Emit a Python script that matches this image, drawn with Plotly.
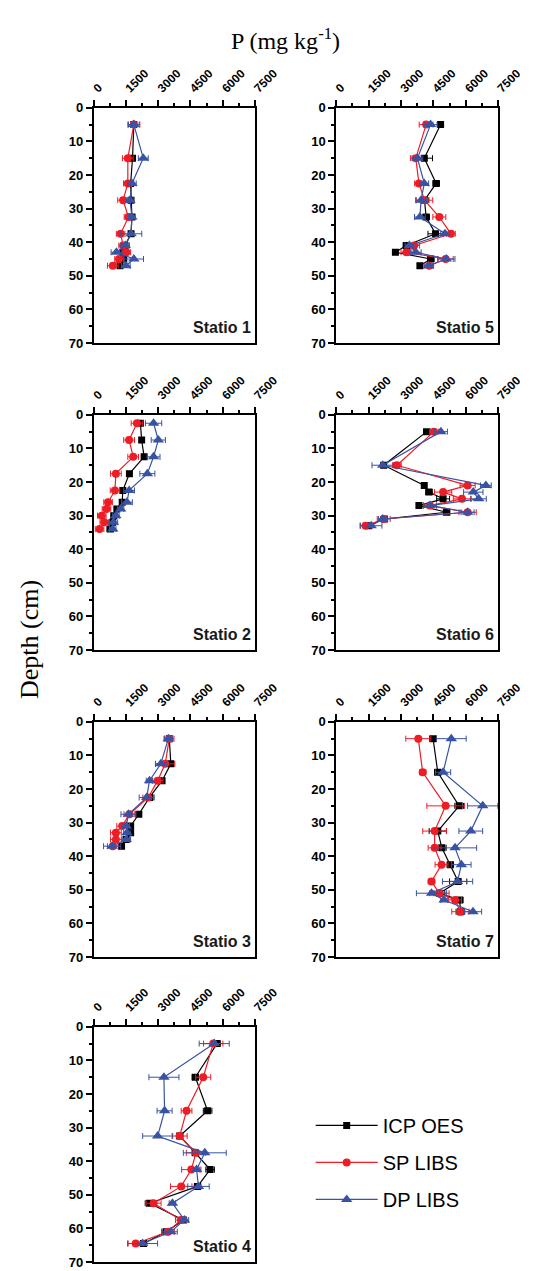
import plotly.graph_objects as go

# ---------------- data ----------------
stations = ["Statio 1", "Statio 5", "Statio 2", "Statio 6", "Statio 3", "Statio 7", "Statio 4"]

s1_depth = [5, 15, 22.5, 27.5, 32.5, 37.5, 41, 43, 45, 47]
s1_icp = [1860, 1800, 1710, 1730, 1770, 1730, 1450, 1350, 1390, 1215]
s1_sp = [1860, 1580, 1580, 1360, 1610, 1245, 1360, 1510, 1170, 880]
s1_dp = [1860, 2300, 1770, 1680, 1770, 1730, 1460, 1050, 1860, 1490]
s1_icp_err = [80, 120, 100, 100, 100, 100, 100, 100, 100, 100]
s1_sp_err = [280, 250, 200, 250, 200, 200, 200, 200, 200, 250]
s1_dp_err = [250, 230, 200, 150, 150, 500, 200, 250, 450, 200]

s5_depth = [5, 15, 22.5, 27.5, 32.5, 37.5, 41, 43, 45, 47]
s5_icp = [4835, 4080, 4630, 4090, 4165, 4600, 3250, 2740, 4380, 3875]
s5_sp = [4165, 3685, 3830, 4090, 4775, 5315, 3610, 3250, 5070, 4310]
s5_dp = [4370, 3760, 4080, 3930, 3875, 5040, 3390, 3685, 5100, 4270]
s5_icp_err = [120, 380, 150, 200, 150, 350, 150, 100, 150, 100]
s5_sp_err = [320, 250, 200, 380, 300, 200, 250, 250, 350, 200]
s5_dp_err = [300, 250, 200, 250, 250, 200, 200, 250, 400, 200]

s2_depth = [2.5, 7.5, 12.5, 17.5, 22.5, 26, 28, 30, 32, 34]
s2_icp = [2166, 2224, 2340, 1655, 1346, 1317, 1068, 922, 878, 761]
s2_sp = [2005, 1640, 1830, 1024, 980, 660, 585, 366, 483, 263]
s2_dp = [2780, 3000, 2780, 2490, 1640, 1540, 1244, 1024, 907, 878]
s2_icp_err = [100, 80, 100, 100, 100, 100, 100, 100, 100, 150]
s2_sp_err = [270, 250, 250, 250, 220, 200, 200, 200, 200, 200]
s2_dp_err = [380, 330, 300, 350, 250, 250, 150, 150, 200, 150]

s6_depth = [5, 15, 21, 23, 25, 27, 29, 31, 33]
s6_icp = [4194, 2199, 4078, 4296, 4951, 3830, 5112, 2228, 1500]
s6_sp = [4529, 2811, 6087, 4951, 5825, 4340, 6087, 2199, 1354]
s6_dp = [4850, 2155, 6932, 6350, 6600, 4340, 6087, 2155, 1617]
s6_icp_err = [150, 100, 100, 150, 300, 100, 150, 150, 150]
s6_sp_err = [200, 200, 350, 400, 400, 300, 400, 300, 250]
s6_dp_err = [300, 500, 250, 450, 350, 300, 300, 200, 500]

s3_depth = [5, 12.5, 17.5, 22.5, 27.5, 31, 33, 35, 37]
s3_icp = [3512, 3585, 3176, 2590, 2093, 1712, 1712, 1500, 1288]
s3_sp = [3512, 3322, 2970, 2532, 1654, 1317, 1024, 1024, 878]
s3_dp = [3468, 3117, 2590, 2459, 1610, 1507, 1537, 1507, 849]
s3_icp_err = [100, 100, 100, 100, 100, 100, 100, 100, 100]
s3_sp_err = [220, 450, 250, 250, 250, 250, 250, 250, 250]
s3_dp_err = [200, 250, 150, 350, 350, 150, 150, 200, 400]

s7_depth = [5, 15, 25, 32.5, 37.5, 42.5, 47.5, 51, 53, 56.5]
s7_icp = [4485, 4704, 5694, 4704, 4893, 5286, 5650, 4777, 5723, 5752]
s7_sp = [3801, 4005, 5068, 4558, 4558, 4879, 4413, 4777, 5505, 5752]
s7_dp = [5330, 4951, 6786, 6233, 5505, 5796, 5621, 4413, 4995, 6335]
s7_icp_err = [150, 150, 200, 400, 200, 150, 400, 250, 150, 200]
s7_sp_err = [580, 150, 870, 550, 300, 300, 150, 450, 300, 400]
s7_dp_err = [690, 350, 700, 550, 1000, 450, 700, 700, 150, 400]

s4_depth = [5, 15, 25, 32.5, 37.5, 42.5, 47.5, 52.5, 57.5, 61, 64.5]
s4_icp = [5737, 4727, 5298, 3995, 4727, 5415, 4830, 2590, 4171, 3366, 2312]
s4_sp = [5560, 5093, 4317, 3995, 4756, 4537, 4068, 2780, 4054, 3450, 1946]
s4_dp = [5605, 3263, 3293, 2971, 5166, 4785, 4873, 3658, 4215, 3585, 2268]
s4_icp_err = [150, 150, 200, 150, 150, 200, 150, 200, 150, 200, 150]
s4_sp_err = [450, 350, 250, 350, 450, 450, 500, 350, 250, 300, 350]
s4_dp_err = [700, 700, 350, 700, 1000, 150, 500, 150, 200, 300, 700]

methods = ["ICP OES", "SP LIBS", "DP LIBS"]
x_ticks = [0, 1500, 3000, 4500, 6000, 7500]
y_ticks = [0, 10, 20, 30, 40, 50, 60, 70]

station_data = [
    (s1_depth, [s1_icp, s1_sp, s1_dp], [s1_icp_err, s1_sp_err, s1_dp_err]),
    (s5_depth, [s5_icp, s5_sp, s5_dp], [s5_icp_err, s5_sp_err, s5_dp_err]),
    (s2_depth, [s2_icp, s2_sp, s2_dp], [s2_icp_err, s2_sp_err, s2_dp_err]),
    (s6_depth, [s6_icp, s6_sp, s6_dp], [s6_icp_err, s6_sp_err, s6_dp_err]),
    (s3_depth, [s3_icp, s3_sp, s3_dp], [s3_icp_err, s3_sp_err, s3_dp_err]),
    (s7_depth, [s7_icp, s7_sp, s7_dp], [s7_icp_err, s7_sp_err, s7_dp_err]),
    (s4_depth, [s4_icp, s4_sp, s4_dp], [s4_icp_err, s4_sp_err, s4_dp_err]),
]

# ---------------- style ----------------
W, H = 543, 1271
colors = ["#000000", "#ee1c25", "#3953a4"]
symbols = ["square", "circle", "triangle-up"]
msizes = [7, 8, 10]
col_x = [(95, 265), (351, 522)]
row_top = [102, 412.7, 723.4, 1032]
panel_h = 238
positions = [(0, 0), (0, 1), (1, 0), (1, 1), (2, 0), (2, 1), (3, 0)]

fig = go.Figure()
layout = {}
annotations = []

for i, (name, (depth, vals, errs)) in enumerate(zip(stations, station_data)):
    r, c = positions[i]
    x0, x1 = col_x[c]
    top = row_top[r]
    bot = min(top + panel_h, H - 1)
    xa = "xaxis" if i == 0 else f"xaxis{i+1}"
    ya = "yaxis" if i == 0 else f"yaxis{i+1}"
    xr = "x" if i == 0 else f"x{i+1}"
    yr = "y" if i == 0 else f"y{i+1}"
    for m in range(3):
        fig.add_trace(go.Scatter(
            x=vals[m], y=depth, xaxis=xr, yaxis=yr,
            mode="lines+markers", name=methods[m],
            legendgroup=methods[m], showlegend=(i == 0),
            line=dict(color=colors[m], width=1.2),
            marker=dict(symbol=symbols[m], size=msizes[m], color=colors[m]),
            error_x=dict(type="data", array=errs[m], color=colors[m],
                         thickness=1, width=3),
        ))
    layout[xa] = dict(
        domain=[x0 / W, x1 / W], anchor=yr, side="top", range=[0, 7500],
        tickvals=x_ticks, ticktext=[str(v) for v in x_ticks], tickangle=-45,
        ticks="outside", ticklen=6, tickwidth=2, tickcolor="black",
        minor=dict(ticks="outside", ticklen=3, tickwidth=2, dtick=750, tickcolor="black"),
        showline=True, linewidth=2, linecolor="black", mirror=True,
        showgrid=False, zeroline=False,
        tickfont=dict(family="Liberation Sans", size=12, color="black", weight="bold"),
    )
    layout[ya] = dict(
        domain=[1 - bot / H, 1 - top / H], anchor=xr, range=[70, 0],
        tickvals=y_ticks, ticks="outside", ticklen=6, tickwidth=2, tickcolor="black",
        minor=dict(ticks="outside", ticklen=3, tickwidth=2, dtick=5, tickcolor="black"),
        showline=True, linewidth=2, linecolor="black", mirror=True,
        showgrid=False, zeroline=False,
        tickfont=dict(family="Liberation Sans", size=13, color="black", weight="bold"),
    )
    annotations.append(dict(
        x=7420, y=68.5, xref=xr, yref=yr, text=name, showarrow=False,
        xanchor="right", yanchor="bottom",
        font=dict(family="Liberation Sans", size=16, color="#1a1a1a", weight="bold"),
    ))

annotations.append(dict(
    x=238 / W, y=1 - 32 / H, xref="paper", yref="paper",
    text="P (mg kg<sup>-1</sup>)", showarrow=False,
    xanchor="left", yanchor="middle",
    font=dict(family="Liberation Serif", size=24, color="black"),
))
annotations.append(dict(
    x=27 / W, y=1 - 640 / H, xref="paper", yref="paper",
    text="Depth (cm)", showarrow=False, textangle=-90,
    xanchor="center", yanchor="middle",
    font=dict(family="Liberation Serif", size=26, color="black"),
))

fig.update_layout(
    width=W, height=H, margin=dict(l=0, r=0, t=0, b=0),
    paper_bgcolor="white", plot_bgcolor="white",
    annotations=annotations,
    showlegend=True,
    legend=dict(x=324 / W, y=1 - 1112 / H, xanchor="left", yanchor="top",
                font=dict(family="Liberation Sans", size=20, color="black"),
                itemwidth=62, tracegroupgap=8, bgcolor="rgba(0,0,0,0)"),
    **layout,
)

fig.write_html("out.html", config={"displayModeBar": False},
               post_script="document.body.style.margin='0px';")
